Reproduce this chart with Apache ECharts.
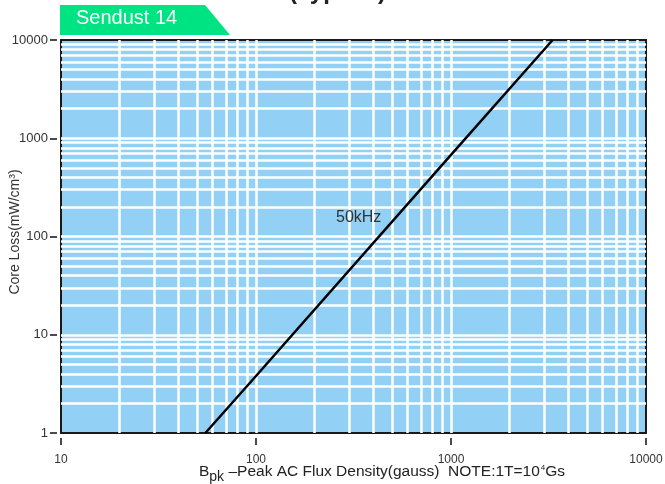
<!DOCTYPE html>
<html><head><meta charset="utf-8">
<script src="https://cdn.jsdelivr.net/npm/echarts@6/dist/echarts.min.js"></script>
<style>html,body{margin:0;padding:0;background:#fff}#c{width:665px;height:484px}</style>
</head><body><div id="c"></div>
<script>
// Data (log-log straight line, 50kHz)
var flux = [55, 100, 1000, 3320];            // gauss
var coreLoss = [1, 3.8, 677, 10000];          // mW/cm^3
var xTickLabels = [10, 100, 1000, 10000];
var yTickLabels = [1, 10, 100, 1000, 10000];
var xGridValues = [20,30,40,50,60,70,80,90,100,200,300,400,500,600,700,800,900,1000,2000,3000,4000,5000,6000,7000,8000,9000];
var yGridValues = [2,3,4,5,6,7,8,9,10,20,30,40,50,60,70,80,90,100,200,300,400,500,600,700,800,900,1000,2000,3000,4000,5000,6000,7000,8000,9000];
var seriesName = '50kHz';

var font = '"Liberation Sans", Arial, sans-serif';
var chart = echarts.init(document.getElementById('c'), null, {renderer:'canvas'});
var lineData = flux.map(function(v,i){return [v, coreLoss[i]];});
var gridLines = [];
xGridValues.forEach(function(v){gridLines.push({xAxis:v});});
yGridValues.forEach(function(v){gridLines.push({yAxis:v});});

chart.setOption({
  animation:false,
  grid:{left:61,right:19,top:40,bottom:51,containLabel:false,outerBoundsMode:'none',show:true,backgroundColor:'#92D1F5',borderColor:'#1a1a1a',borderWidth:2,z:0},
  xAxis:{type:'log',logBase:10,min:10,max:10000,offset:5,
    axisLine:{show:false},
    axisTick:{show:true,length:7,lineStyle:{color:'#111',width:1.5}},
    axisLabel:{margin:16,color:'#333',fontSize:12,fontFamily:font,formatter:function(v){return xTickLabels.indexOf(v)>=0?String(v):'';}},
    splitLine:{show:false},minorTick:{show:false},minorSplitLine:{show:false}},
  yAxis:{type:'log',logBase:10,min:1,max:10000,offset:4,
    axisLine:{show:false},
    axisTick:{show:true,length:7,lineStyle:{color:'#111',width:1.5}},
    axisLabel:{margin:9,color:'#333',fontSize:13,fontFamily:font,formatter:function(v){return yTickLabels.indexOf(v)>=0?String(v):'';}},
    splitLine:{show:false},minorTick:{show:false},minorSplitLine:{show:false}},
  series:[
    {type:'line',data:[],z:1,silent:true,
      markLine:{silent:true,symbol:['none','none'],animation:false,label:{show:false},
        lineStyle:{color:'#ffffff',width:2.5,type:'solid'},emphasis:{disabled:true},data:gridLines}},
    {type:'line',name:seriesName,data:lineData,z:5,symbol:'none',showSymbol:false,
      lineStyle:{color:'#000',width:2.5}}
  ],
  graphic:[
    {type:'polygon',shape:{points:[[60,5],[205,5],[230,35],[60,35]]},style:{fill:'#00E383'},z:10},
    {type:'text',left:76,top:8,style:{text:'Sendust 14',fill:'#fff',font:'20px '+font},z:11},
    {type:'text',left:289,top:-20,style:{text:'(Typical)',fill:'#222',font:'bold 24px '+font},z:11},
    {type:'text',left:336,top:210,style:{text:seriesName,fill:'#333',font:'16px '+font},z:11},
    {type:'text',x:15,y:232,rotation:Math.PI/2,style:{text:'Core Loss(mW/cm³)',fill:'#333',font:'14px '+font,align:'center',verticalAlign:'middle'},z:11},
    {type:'text',x:199,y:460,z:11,style:{
      text:'{n|B}{sub|pk}{n| –Peak AC Flux Density(gauss)  NOTE:1T=10}{sup|4}{n|Gs}',
      fill:'#222',font:'15.5px '+font,lineHeight:24,
      rich:{
        n:{fontSize:15.5,fontFamily:font,fill:'#222',lineHeight:24,verticalAlign:'middle'},
        sub:{fontSize:14,fontFamily:font,fill:'#222',lineHeight:14,verticalAlign:'bottom'},
        sup:{fontSize:8,fontFamily:font,fill:'#222',lineHeight:8,verticalAlign:'top',padding:[4,0,0,1]}
      }}}
  ]
});
</script></body></html>
